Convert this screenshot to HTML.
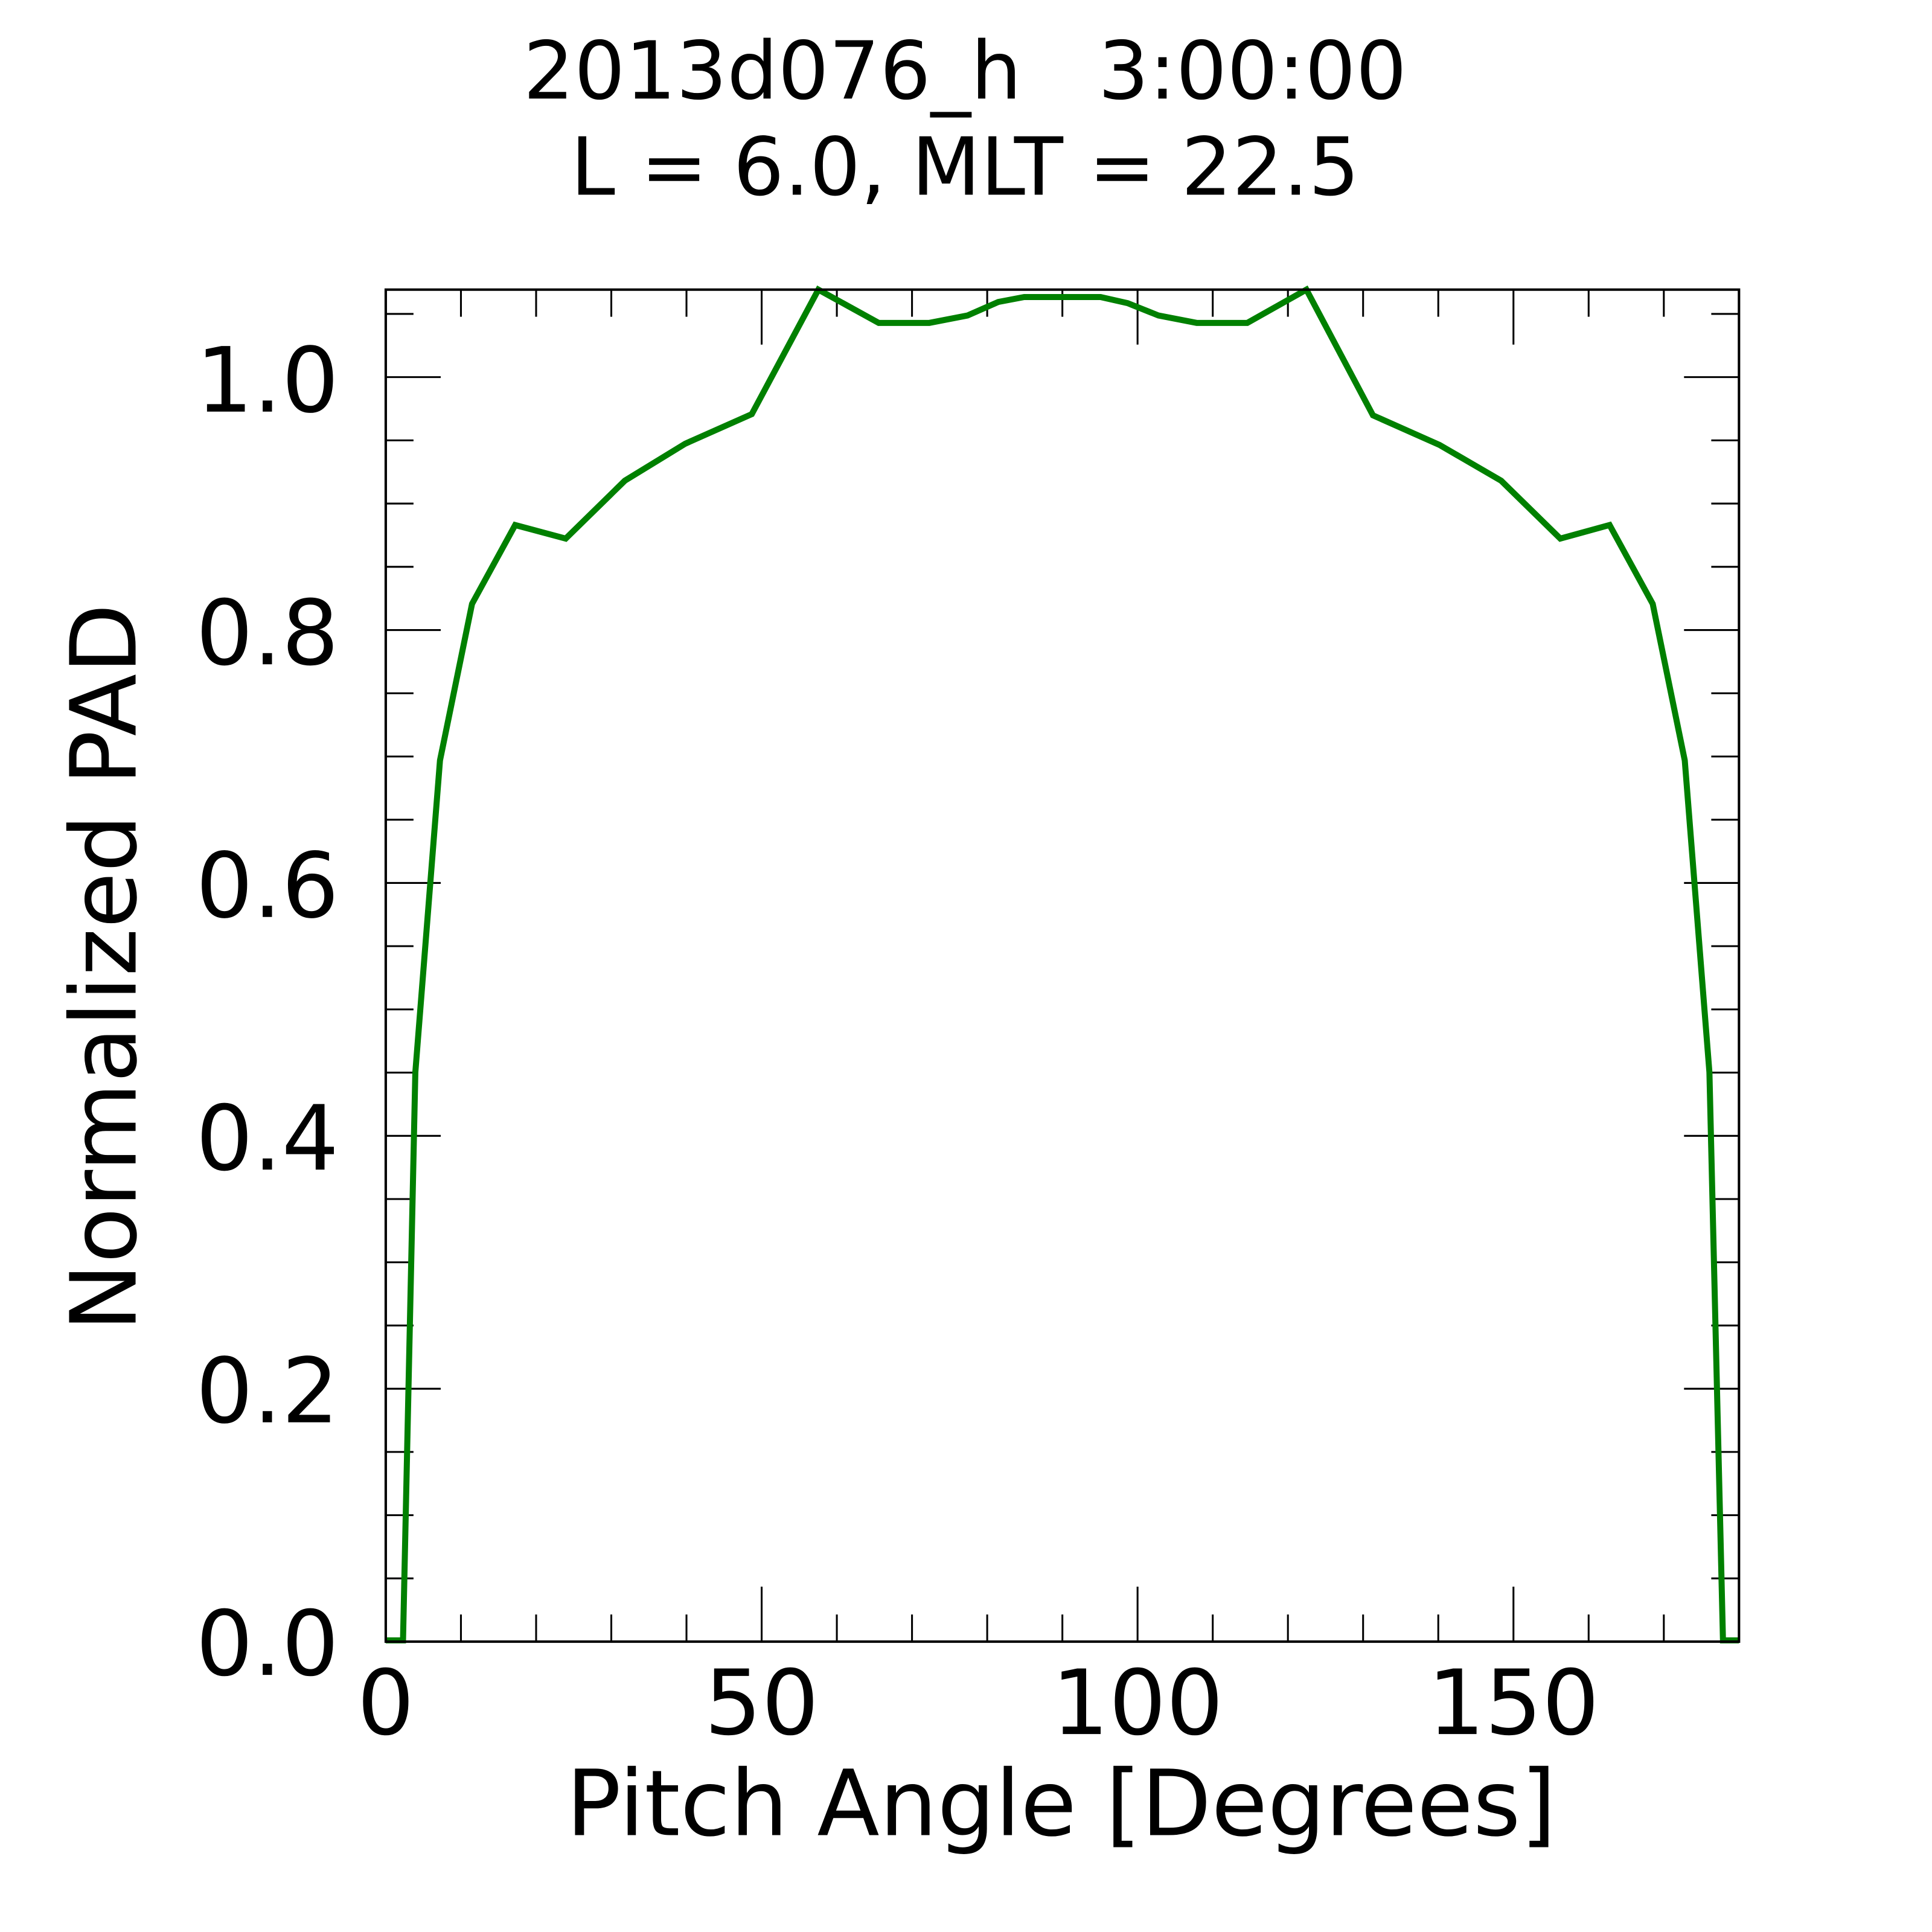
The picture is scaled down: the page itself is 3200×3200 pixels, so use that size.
<!DOCTYPE html>
<html><head><meta charset="utf-8"><style>
html,body{margin:0;padding:0;background:#fff;}
svg{display:block;}
text{font-family:"DejaVu Sans","Liberation Sans",sans-serif;fill:#000;}
</style></head><body>
<svg width="3200" height="3200" viewBox="0 0 1567.6 1567.6" xmlns="http://www.w3.org/2000/svg">
<rect width="1567.6" height="1567.6" fill="#fff"/>
<text x="783" y="80" font-size="65" text-anchor="middle" xml:space="preserve">2013d076_h   3:00:00</text>
<text x="783" y="158" font-size="65" text-anchor="middle">L = 6.0, MLT = 22.5</text>
<g stroke="#000" stroke-width="1.5" fill="none">
<path d="M374,235v22M435,235v22M496,235v22M557,235v22M679,235v22M740,235v22M801,235v22M862,235v22M984,235v22M1045,235v22M1106,235v22M1167,235v22M1289,235v22M1350,235v22"/>
<path d="M618,235v44.6M923,235v44.6M1228,235v44.6"/>
<path d="M374,1332v-22M435,1332v-22M496,1332v-22M557,1332v-22M679,1332v-22M740,1332v-22M801,1332v-22M862,1332v-22M984,1332v-22M1045,1332v-22M1106,1332v-22M1167,1332v-22M1289,1332v-22M1350,1332v-22"/>
<path d="M618,1332v-44.6M923,1332v-44.6M1228,1332v-44.6"/>
<path d="M313,1280.7h22.5M313,1229.4h22.5M313,1178.1h22.5M313,1075.5h22.5M313,1024.2h22.5M313,972.9h22.5M313,870.3h22.5M313,819h22.5M313,767.7h22.5M313,665.1h22.5M313,613.8h22.5M313,562.5h22.5M313,459.9h22.5M313,408.6h22.5M313,357.3h22.5M313,254.7h22.5"/>
<path d="M313,1126.8h44.6M313,921.6h44.6M313,716.4h44.6M313,511.2h44.6M313,306h44.6"/>
<path d="M1411,1280.7h-22.5M1411,1229.4h-22.5M1411,1178.1h-22.5M1411,1075.5h-22.5M1411,1024.2h-22.5M1411,972.9h-22.5M1411,870.3h-22.5M1411,819h-22.5M1411,767.7h-22.5M1411,665.1h-22.5M1411,613.8h-22.5M1411,562.5h-22.5M1411,459.9h-22.5M1411,408.6h-22.5M1411,357.3h-22.5M1411,254.7h-22.5"/>
<path d="M1411,1126.8h-44.6M1411,921.6h-44.6M1411,716.4h-44.6M1411,511.2h-44.6M1411,306h-44.6"/>
</g>
<polyline fill="none" stroke="#008000" stroke-width="4.9" stroke-linejoin="miter" points="313,1331 327,1331 337,870 357,617 383,490 418,426 459,437 507,390 556,360 610,336 664,235 713,262 754,262 785,256 810,245 831,241 893,241 915,246 940,256 971,262 1012,262 1060,235 1114,337 1168,361 1218,390 1266,437 1306,426 1341,490 1367,617 1387,870 1398,1331 1411,1331"/>
<rect x="313" y="235" width="1098" height="1097" fill="none" stroke="#000" stroke-width="2"/>
<g font-size="73" text-anchor="end">
<text x="275" y="1359">0.0</text>
<text x="275" y="1154">0.2</text>
<text x="275" y="949">0.4</text>
<text x="275" y="744">0.6</text>
<text x="275" y="539">0.8</text>
<text x="275" y="334">1.0</text>
</g>
<g font-size="73" text-anchor="middle">
<text x="313" y="1407">0</text>
<text x="618" y="1407">50</text>
<text x="923" y="1407">100</text>
<text x="1228" y="1407">150</text>
</g>
<text x="861" y="1489" font-size="74" text-anchor="middle">Pitch Angle [Degrees]</text>
<text transform="translate(110,785) rotate(-90)" font-size="74" text-anchor="middle">Normalized PAD</text>
</svg>
</body></html>
